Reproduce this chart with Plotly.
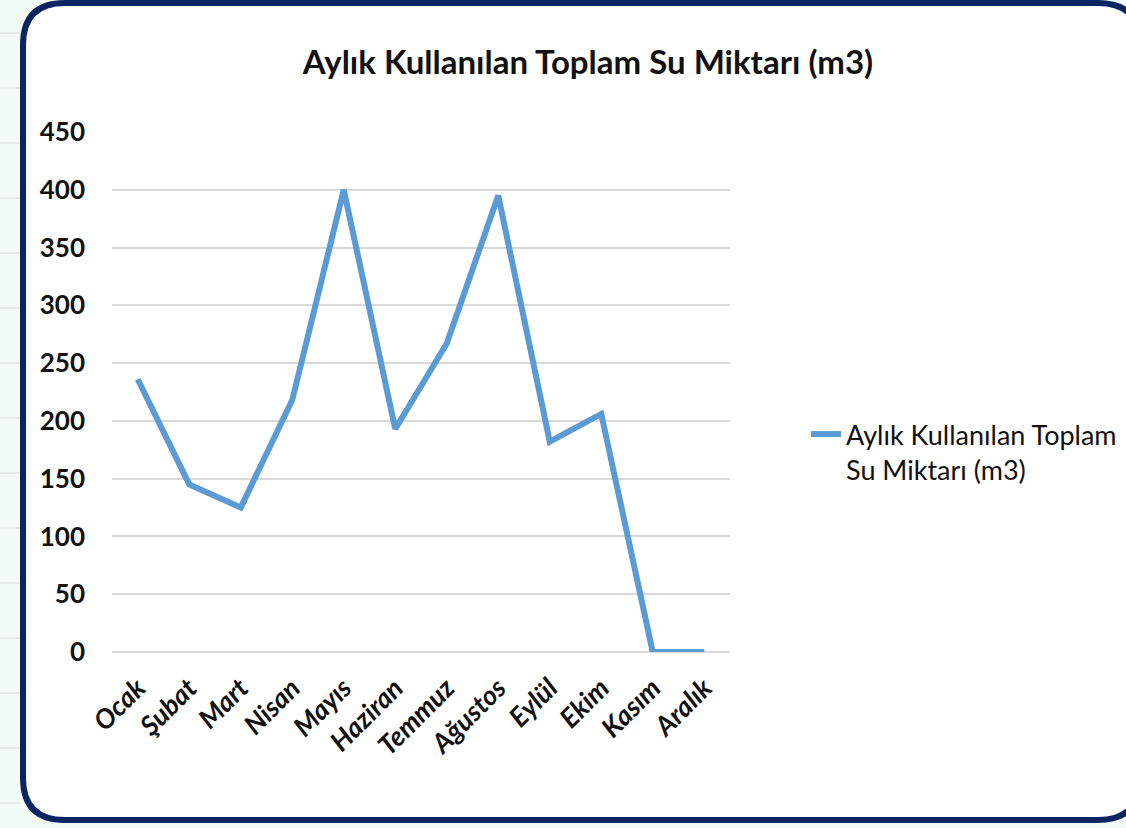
import plotly.graph_objects as go

months = ["Ocak", "Şubat", "Mart", "Nisan", "Mayıs", "Haziran", "Temmuz",
          "Ağustos", "Eylül", "Ekim", "Kasım", "Aralık"]
water_m3 = [236, 145, 125, 218, 400, 193, 267, 395, 182, 206, 0, 0]
series_title = "Aylık Kullanılan Toplam Su Miktarı (m3)"
legend_label = "Aylık Kullanılan Toplam<br>Su Miktarı (m3)"
y_ticks = [0, 50, 100, 150, 200, 250, 300, 350, 400, 450]

W, H = 1126, 828
L, R, T, B = 112, 730, 132, 652
FONT = "Lato, Carlito, Calibri, sans-serif"


def px(x):
    return (x - L) / (R - L)


def py(y):
    return (B - y) / (B - T)


def rounded_path(x0, y0, x1, y1, r):
    pts = [
        f"M {px(x0 + r)},{py(y0)}",
        f"L {px(x1 - r)},{py(y0)}",
        f"Q {px(x1)},{py(y0)} {px(x1)},{py(y0 + r)}",
        f"L {px(x1)},{py(y1 - r)}",
        f"Q {px(x1)},{py(y1)} {px(x1 - r)},{py(y1)}",
        f"L {px(x0 + r)},{py(y1)}",
        f"Q {px(x0)},{py(y1)} {px(x0)},{py(y1 - r)}",
        f"L {px(x0)},{py(y0 + r)}",
        f"Q {px(x0)},{py(y0)} {px(x0 + r)},{py(y0)}",
        "Z",
    ]
    return " ".join(pts)


fig = go.Figure()
fig.add_trace(go.Scatter(
    x=months, y=water_m3, mode="lines", name=legend_label,
    line=dict(color="#5B9BD5", width=6, shape="linear"),
))

shapes = []
for yy in range(33, 828, 55):
    shapes.append(dict(type="line", xref="paper", yref="paper", layer="below",
                       x0=px(0), x1=px(20), y0=py(yy), y1=py(yy),
                       line=dict(color="#d8dcd8", width=1)))
shapes.append(dict(type="path", xref="paper", yref="paper", layer="below",
                   path=rounded_path(23, 3, 1140, 820, 42),
                   fillcolor="white", line=dict(color="#0c2461", width=6)))

fig.update_layout(
    width=W, height=H,
    margin=dict(l=L, r=W - R, t=T, b=H - B, autoexpand=False),
    paper_bgcolor="#f3fbf5",
    plot_bgcolor="rgba(0,0,0,0)",
    shapes=shapes,
    title=dict(text=series_title, xref="container", x=588 / W, xanchor="center",
               yref="container", y=1 - 62 / H, yanchor="middle",
               font=dict(family=FONT, size=33, color="#111111", weight="bold")),
    showlegend=True,
    legend=dict(x=px(806), xanchor="left", y=py(452), yanchor="middle",
                valign="top", bgcolor="rgba(0,0,0,0)", tracegroupgap=0,
                font=dict(family=FONT, size=27, color="#111111")),
    xaxis=dict(
        type="category", range=[-0.5, 11.5], tickangle=-45,
        showgrid=False, showline=False, zeroline=False, ticks="",
        ticklabelstandoff=14,
        tickfont=dict(family=FONT, size=27, color="#111111", style="italic",
                      weight="bold"),
    ),
    yaxis=dict(
        range=[0, 450], tickvals=y_ticks, showgrid=True, gridcolor="#d9d9d9",
        gridwidth=1.5, zeroline=True, zerolinecolor="#d9d9d9", zerolinewidth=1.5,
        showline=False, ticks="", ticklabelstandoff=26,
        tickfont=dict(family=FONT, size=26, color="#111111", weight="bold"),
    ),
)

fig.write_html("out.html", config={"displayModeBar": False},
               post_script="document.body.style.margin='0px';")
